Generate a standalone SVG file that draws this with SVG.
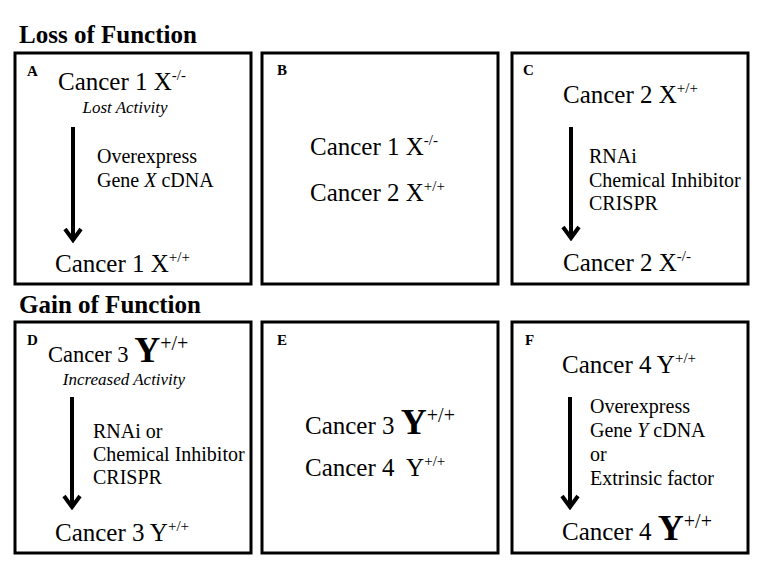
<svg xmlns="http://www.w3.org/2000/svg" width="768" height="563" viewBox="0 0 768 563">
<style>
text{font-family:"Liberation Serif","Times New Roman",serif;fill:#000}
.t{font-size:25px;font-weight:bold}
.lb{font-size:15px;font-weight:bold}
.c{font-size:25px}
.cs{font-size:22.5px}
.s{font-size:15px}
.yb{font-size:36px;font-weight:bold}
.ys{font-size:20px}
.m{font-size:20px}
.i{font-size:17px;font-style:italic}
.box{fill:#fff;stroke:#000;stroke-width:3}
.ar{stroke:#000;stroke-width:4;fill:none}
</style>
<defs>
<marker id="ah" viewBox="0 0 20 20" refX="17" refY="10" markerWidth="20" markerHeight="20" markerUnits="userSpaceOnUse" orient="auto">
<path d="M6,2 L17,10 L6,18" fill="none" stroke="#000" stroke-width="4"/>
</marker>
</defs>
<rect width="768" height="563" fill="#fff"/>
<text class="t" x="19" y="43">Loss of Function</text>
<text class="t" x="19" y="313">Gain of Function</text>

<g id="A">
<rect class="box" x="15" y="53" width="236" height="231"/>
<text class="lb" x="27" y="76">A</text>
<text class="c" x="58" y="90">Cancer 1 X<tspan class="s" dy="-10">-/-</tspan></text>
<text class="i" x="125" y="113" text-anchor="middle">Lost Activity</text>
<text class="m" x="97" y="163">Overexpress</text>
<text class="m" x="97" y="187">Gene <tspan font-style="italic">X</tspan> cDNA</text>
<text class="c" x="55" y="272">Cancer 1 X<tspan class="s" dy="-10">+/+</tspan></text>
</g>

<g id="B">
<rect class="box" x="262" y="53" width="236" height="231"/>
<text class="lb" x="277" y="75">B</text>
<text class="c" x="310" y="155">Cancer 1 X<tspan class="s" dy="-10">-/-</tspan></text>
<text class="c" x="310" y="201">Cancer 2 X<tspan class="s" dy="-10">+/+</tspan></text>
</g>

<g id="C">
<rect class="box" x="512" y="53" width="236" height="231"/>
<text class="lb" x="523" y="75">C</text>
<text class="c" x="563" y="103">Cancer 2 X<tspan class="s" dy="-10">+/+</tspan></text>
<text class="m" x="589" y="163">RNAi</text>
<text class="m" x="589" y="187">Chemical Inhibitor</text>
<text class="m" x="589" y="210">CRISPR</text>
<text class="c" x="563" y="271">Cancer 2 X<tspan class="s" dy="-10">-/-</tspan></text>
</g>

<g id="D">
<rect class="box" x="15" y="322" width="236" height="231"/>
<text class="lb" x="27" y="345">D</text>
<text class="cs" x="48" y="362">Cancer 3 <tspan class="yb">Y</tspan><tspan class="ys" dy="-12">+/+</tspan></text>
<text class="i" x="124" y="385" text-anchor="middle">Increased Activity</text>
<text class="m" x="93" y="438">RNAi or</text>
<text class="m" x="93" y="461">Chemical Inhibitor</text>
<text class="m" x="93" y="484">CRISPR</text>
<text class="c" x="55" y="541">Cancer 3 Y<tspan class="s" dy="-10">+/+</tspan></text>
</g>

<g id="E">
<rect class="box" x="262" y="322" width="236" height="231"/>
<text class="lb" x="277" y="345">E</text>
<text class="c" x="305" y="434">Cancer 3 <tspan class="yb">Y</tspan><tspan class="ys" dy="-12">+/+</tspan></text>
<text class="c" x="305" y="476">Cancer 4&#160; Y<tspan class="s" dy="-10">+/+</tspan></text>
</g>

<g id="F">
<rect class="box" x="512" y="322" width="236" height="231"/>
<text class="lb" x="525" y="345">F</text>
<text class="c" x="562" y="373">Cancer 4 Y<tspan class="s" dy="-10">+/+</tspan></text>
<text class="m" x="590" y="413">Overexpress</text>
<text class="m" x="590" y="437">Gene <tspan font-style="italic">Y</tspan> cDNA</text>
<text class="m" x="590" y="461">or</text>
<text class="m" x="590" y="485">Extrinsic factor</text>
<text class="c" x="562" y="540">Cancer 4 <tspan class="yb">Y</tspan><tspan class="ys" dy="-12">+/+</tspan></text>
</g>

<g id="connectors">
<line class="ar" x1="73" y1="127" x2="73" y2="240" marker-end="url(#ah)"/>
<line class="ar" x1="571" y1="127" x2="571" y2="238" marker-end="url(#ah)"/>
<line class="ar" x1="72" y1="397" x2="72" y2="507" marker-end="url(#ah)"/>
<line class="ar" x1="570" y1="397" x2="570" y2="507" marker-end="url(#ah)"/>
</g>
</svg>
